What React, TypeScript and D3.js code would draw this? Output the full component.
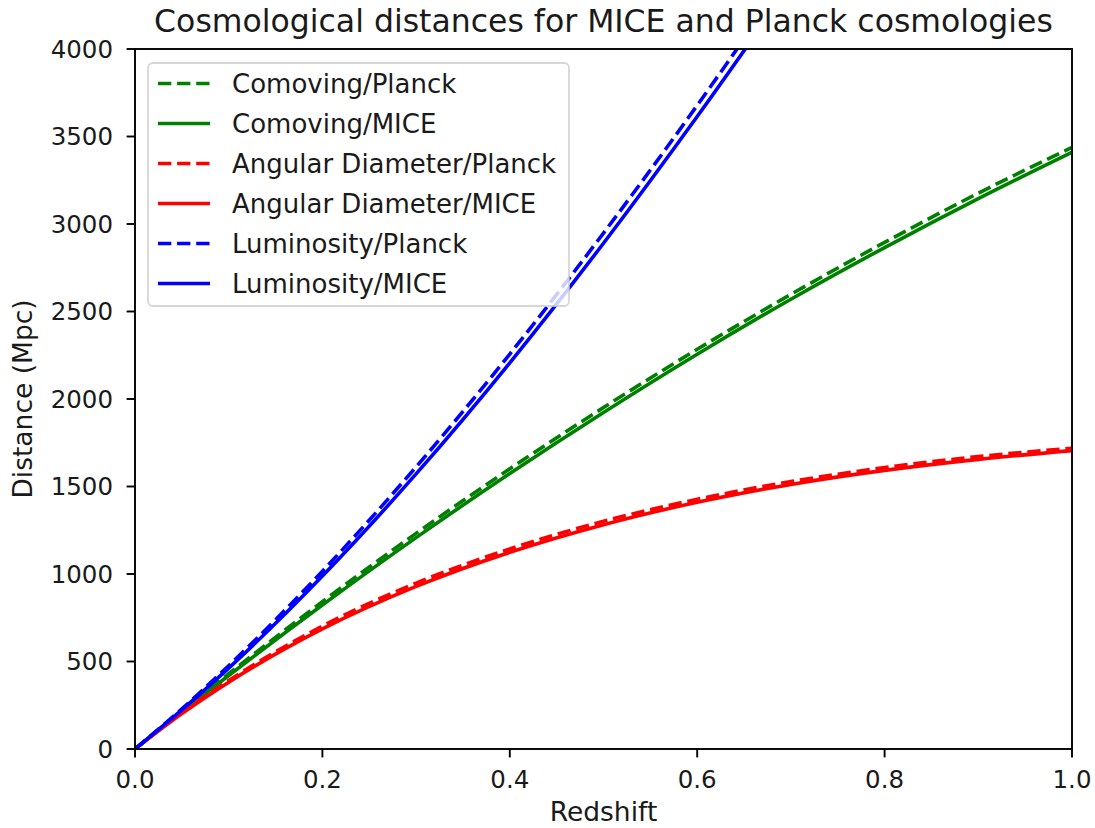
import React from "react";
import * as d3 from "d3";

const redshift = [0, 0.05, 0.1, 0.2, 0.3, 0.4, 0.5, 0.6, 0.7, 0.8, 0.9, 1.0];
const comovingPlanck = [0, 217, 430, 842, 1232, 1601, 1951, 2284, 2598, 2895, 3176, 3438];
const comovingMICE = [0, 212, 420, 823, 1208, 1574, 1923, 2256, 2570, 2865, 3145, 3410];
const angularPlanck = [0, 207, 391, 702, 948, 1143, 1301, 1427, 1528, 1608, 1671, 1719];
const angularMICE = [0, 202, 382, 686, 929, 1124, 1282, 1410, 1512, 1592, 1655, 1705];
const luminosityPlanck = [0, 229, 476, 1016, 1612, 2257, 2948, 3678, 4446, 5240, 6060, 6900];
const luminosityMICE = [0, 223, 462, 988, 1572, 2207, 2890, 3614, 4374, 5160, 5978, 6820];

const xTicks = [0, 0.2, 0.4, 0.6, 0.8, 1.0];
const yTicks = [0, 500, 1000, 1500, 2000, 2500, 3000, 3500, 4000];

const series = [
  { name: "Comoving/Planck", values: comovingPlanck, color: "green", dashed: true },
  { name: "Comoving/MICE", values: comovingMICE, color: "green", dashed: false },
  { name: "Angular Diameter/Planck", values: angularPlanck, color: "red", dashed: true },
  { name: "Angular Diameter/MICE", values: angularMICE, color: "red", dashed: false },
  { name: "Luminosity/Planck", values: luminosityPlanck, color: "blue", dashed: true },
  { name: "Luminosity/MICE", values: luminosityMICE, color: "blue", dashed: false },
];

const W = 1095, H = 828;
const L = 135, R = 1072, T = 49, B = 749;
const FONT = "DejaVu Sans, sans-serif";
const LW = 3.6;
const DASH = "13.3,5.8";

export default function App() {
  const x = d3.scaleLinear().domain([0, 1]).range([L, R]);
  const y = d3.scaleLinear().domain([0, 4000]).range([B, T]);
  const line = (vals: number[]) =>
    d3
      .line<number>()
      .x((_, i) => x(redshift[i]))
      .y((d) => y(d))
      .curve(d3.curveMonotoneX)(vals) as string;

  const legX = 148, legY = 63, legW = 421, legH = 243;
  const rowY0 = 83.5, rowStep = 40;

  return (
    <svg
      width={W}
      height={H}
      style={{ position: "absolute", left: 0, top: 0, display: "block", background: "white" }}
      fontFamily={FONT}
    >
      <defs>
        <clipPath id="plotclip">
          <rect x={L} y={T} width={R - L} height={B - T} />
        </clipPath>
      </defs>
      <rect x={0} y={0} width={W} height={H} fill="white" />
      <g clipPath="url(#plotclip)">
        {series.map((s) => (
          <path
            key={s.name}
            d={line(s.values)}
            fill="none"
            stroke={s.color}
            strokeWidth={LW}
            strokeDasharray={s.dashed ? DASH : undefined}
            strokeLinejoin="round"
            strokeLinecap={s.dashed ? "butt" : "square"}
          />
        ))}
      </g>
      <rect x={L} y={T} width={R - L} height={B - T} fill="none" stroke="black" strokeWidth={1.9} />
      {xTicks.map((t) => (
        <g key={"x" + t}>
          <line x1={x(t)} x2={x(t)} y1={B} y2={B + 8.4} stroke="black" strokeWidth={1.9} />
          <text x={x(t)} y={788} fontSize={24.5} textAnchor="middle" fill="#1a1a1a">
            {d3.format(".1f")(t)}
          </text>
        </g>
      ))}
      {yTicks.map((t) => (
        <g key={"y" + t}>
          <line x1={L - 8.4} x2={L} y1={y(t)} y2={y(t)} stroke="black" strokeWidth={1.9} />
          <text x={113} y={y(t)} dy="0.36em" fontSize={24.5} textAnchor="end" fill="#1a1a1a">
            {t}
          </text>
        </g>
      ))}
      <text x={(L + R) / 2} y={821} fontSize={26.5} textAnchor="middle" fill="#1a1a1a">
        Redshift
      </text>
      <text
        transform={`translate(32, ${(T + B) / 2}) rotate(-90)`}
        fontSize={26.5}
        textAnchor="middle"
        fill="#1a1a1a"
      >
        Distance (Mpc)
      </text>
      <text x={(L + R) / 2} y={32} fontSize={31.5} textAnchor="middle" fill="#1a1a1a">
        Cosmological distances for MICE and Planck cosmologies
      </text>
      <rect
        x={legX}
        y={legY}
        width={legW}
        height={legH}
        rx={5}
        fill="white"
        fillOpacity={0.8}
        stroke="#cccccc"
        strokeOpacity={0.8}
        strokeWidth={1.8}
      />
      {series.map((s, i) => (
        <g key={"leg" + s.name}>
          <line
            x1={158}
            x2={210}
            y1={rowY0 + i * rowStep}
            y2={rowY0 + i * rowStep}
            stroke={s.color}
            strokeWidth={LW}
            strokeDasharray={s.dashed ? DASH : undefined}
          />
          <text x={232} y={rowY0 + i * rowStep} dy="0.36em" fontSize={26} fill="#1a1a1a">
            {s.name}
          </text>
        </g>
      ))}
    </svg>
  );
}
